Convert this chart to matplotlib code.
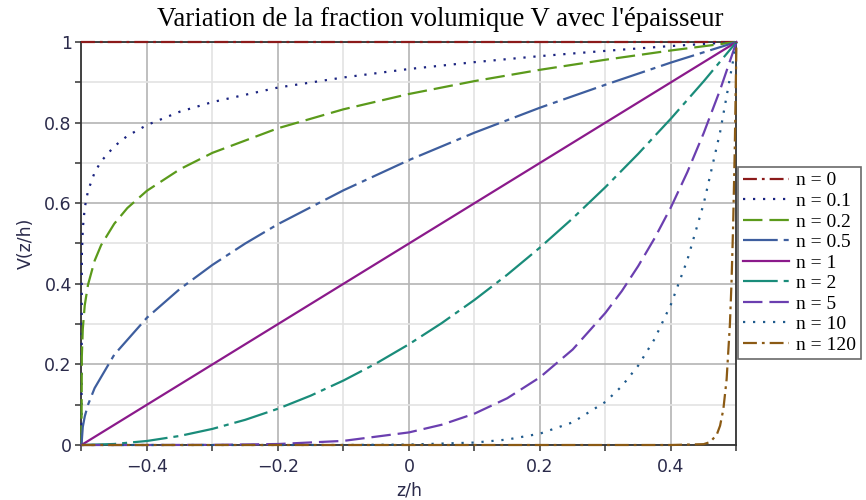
import numpy as np
import matplotlib
matplotlib.use('Agg')
import matplotlib.pyplot as plt
from matplotlib.ticker import MultipleLocator


# valeurs : V(z/h) pour chaque n
n_labels = ["n = 0", "n = 0.1", "n = 0.2", "n = 0.5", "n = 1",
            "n = 2", "n = 5", "n = 10", "n = 120"]

z_n0 = [-0.5, 0.5]
v_n0 = [1.0, 1.0]

z_n01 = [-0.5, -0.4995, -0.498, -0.495, -0.49, -0.48, -0.47, -0.45, -0.43,
         -0.4, -0.35, -0.3, -0.2, -0.1, 0.0, 0.1, 0.2, 0.3, 0.4, 0.5]
v_n01 = [0.0, 0.468, 0.537, 0.589, 0.631, 0.676, 0.704, 0.741, 0.767,
         0.794, 0.827, 0.851, 0.887, 0.912, 0.933, 0.950, 0.965, 0.978, 0.990, 1.0]

z_n02 = z_n01
v_n02 = [0.0, 0.219, 0.288, 0.347, 0.398, 0.457, 0.496, 0.549, 0.588,
         0.631, 0.684, 0.725, 0.786, 0.833, 0.871, 0.903, 0.931, 0.956, 0.979, 1.0]

z_n05 = [-0.5, -0.498, -0.495, -0.49, -0.48, -0.45, -0.4, -0.35, -0.3, -0.25,
         -0.2, -0.1, 0.0, 0.1, 0.2, 0.3, 0.4, 0.5]
v_n05 = [0.0, 0.045, 0.071, 0.100, 0.141, 0.224, 0.316, 0.387, 0.447, 0.500,
         0.548, 0.632, 0.707, 0.775, 0.837, 0.894, 0.949, 1.0]

z_n1 = [-0.5, 0.5]
v_n1 = [0.0, 1.0]

z_n2 = [-0.5, -0.45, -0.4, -0.35, -0.3, -0.25, -0.2, -0.15, -0.1, -0.05, 0.0,
        0.05, 0.1, 0.15, 0.2, 0.25, 0.3, 0.35, 0.4, 0.45, 0.5]
v_n2 = [0.0, 0.0025, 0.01, 0.0225, 0.04, 0.0625, 0.09, 0.1225, 0.16, 0.2025, 0.25,
        0.3025, 0.36, 0.4225, 0.49, 0.5625, 0.64, 0.7225, 0.81, 0.9025, 1.0]

z_n5 = [-0.5, -0.4, -0.3, -0.2, -0.1, 0.0, 0.05, 0.1, 0.15, 0.2, 0.25, 0.3,
        0.325, 0.35, 0.375, 0.4, 0.425, 0.45, 0.475, 0.5]
v_n5 = [0.0, 0.00001, 0.00032, 0.00243, 0.01024, 0.03125, 0.0503, 0.0778, 0.116,
        0.168, 0.237, 0.328, 0.382, 0.444, 0.513, 0.590, 0.677, 0.774, 0.881, 1.0]

z_n10 = [-0.5, -0.2, -0.1, 0.0, 0.1, 0.15, 0.2, 0.25, 0.3, 0.325, 0.35, 0.375,
         0.4, 0.425, 0.45, 0.475, 0.5]
v_n10 = [0.0, 0.0, 0.0001, 0.001, 0.006, 0.0135, 0.0282, 0.0563, 0.107, 0.146,
         0.197, 0.263, 0.349, 0.459, 0.599, 0.776, 1.0]

z_n120 = [-0.5, 0.4, 0.45, 0.46, 0.47, 0.475, 0.48, 0.485, 0.49, 0.4925,
          0.495, 0.4975, 0.5]
v_n120 = [0.0, 0.0, 0.0021, 0.0075, 0.0259, 0.0479, 0.0886, 0.163, 0.299, 0.405,
          0.548, 0.740, 1.0]

series = [(z_n0, v_n0), (z_n01, v_n01), (z_n02, v_n02), (z_n05, v_n05),
          (z_n1, v_n1), (z_n2, v_n2), (z_n5, v_n5), (z_n10, v_n10),
          (z_n120, v_n120)]

couleurs = ["#8B1A1A", "#1A2380", "#5B9A1B", "#3E5E9E", "#8B1A8B",
            "#1A8C7A", "#6B3FB0", "#1F5A8C", "#8B5A14"]

# styles de trait (en points)
dashdot = (0, (10, 3.6, 2, 3.6))
pointille = (0, (1.6, 5.6))
tirets = (0, (14, 5))
long_court = (0, (25, 4.3, 3.6, 4.3))
styles = [dashdot, pointille, tirets, long_court, '-', long_court, tirets,
          pointille, dashdot]

plt.rcParams['lines.scale_dashes'] = False

fig = plt.figure(figsize=(8.66, 5.0), dpi=100)
ax = fig.add_axes([0.0941, 0.11, 0.7563, 0.806])

lignes = []
for (z, v), c, ls, lab in zip(series, couleurs, styles, n_labels):
    l, = ax.plot(z, v, color=c, linestyle=ls, linewidth=1.6, label=lab,
                 clip_on=False, zorder=3)
    lignes.append(l)

ax.set_xlim(-0.5, 0.5)
ax.set_ylim(0, 1)

ax.xaxis.set_major_locator(MultipleLocator(0.2))
ax.xaxis.set_minor_locator(MultipleLocator(0.1))
ax.yaxis.set_major_locator(MultipleLocator(0.2))
ax.yaxis.set_minor_locator(MultipleLocator(0.1))

def fmt(v, pos):
    s = "%g" % round(v, 2)
    return s.replace("-", "\u2212")

ax.xaxis.set_major_formatter(plt.FuncFormatter(fmt))
ax.yaxis.set_major_formatter(plt.FuncFormatter(fmt))

ax.grid(which='major', color='#b4b4b4', linewidth=1.2, zorder=0)
ax.grid(which='minor', color='#e3e3e3', linewidth=1.2, zorder=0)
ax.set_axisbelow(True)

for sp in ax.spines.values():
    sp.set_color('#333333')
    sp.set_linewidth(1.3)

ax.tick_params(which='both', direction='out', length=4, width=1.1,
               color='#333333', labelsize=12.5, labelcolor='#2b2b4b')
ax.tick_params(axis='x', pad=5)
ax.tick_params(axis='y', pad=3)

ax.set_xlabel('z/h', fontsize=12.5, color='#2b2b4b', labelpad=4)
ax.set_ylabel('V(z/h)', fontsize=12.5, color='#2b2b4b', labelpad=7)

fig.text(0.508, 0.962, "Variation de la fraction volumique V avec l'épaisseur",
         ha='center', va='center', fontsize=19.3, family='Liberation Serif')

leg = fig.legend(handles=lignes, loc='upper left', bbox_to_anchor=(0.852, 0.666),
                 prop={'family': 'Liberation Serif', 'size': 14},
                 frameon=True, fancybox=False, edgecolor='#444444',
                 handlelength=2.4, handletextpad=0.36, labelspacing=0.15,
                 borderpad=0.25, borderaxespad=0.0)
leg.get_frame().set_linewidth(1.2)

fig.savefig('out.png', dpi=100)
